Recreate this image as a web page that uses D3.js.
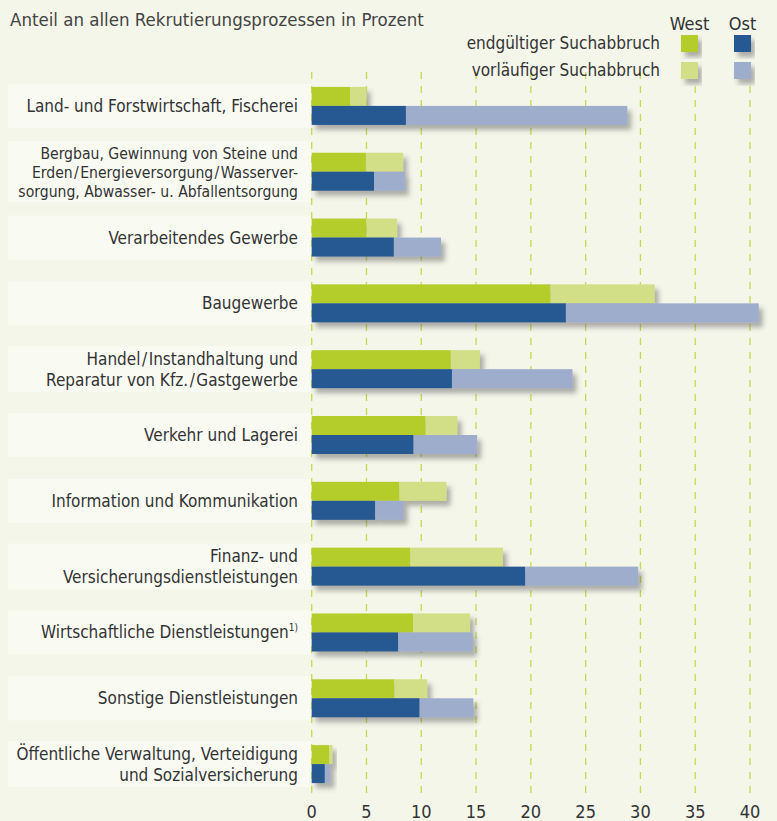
<!DOCTYPE html>
<html>
<head>
<meta charset="utf-8">
<script src="https://cdn.jsdelivr.net/npm/d3@7"></script>
<style>
    body { margin: 0; background: #f4f6ea; }
    svg { display: block; }
    text { font-family: "Liberation Sans Narrow", "DejaVu Sans Condensed", "Open Sans", sans-serif; fill: #333; }
</style>
</head>
<body>
<div id="chart"></div>
<script>
// categories (line breaks as in the original labels)
const categories = [
    "Land- und Forstwirtschaft, Fischerei",
    "Bergbau, Gewinnung von Steine und\nErden\u200A/\u200AEnergieversorgung\u200A/\u200AWasserver-\nsorgung, Abwasser- u. Abfallentsorgung",
    "Verarbeitendes Gewerbe",
    "Baugewerbe",
    "Handel\u200A/\u200AInstandhaltung und\nReparatur von Kfz.\u200A/\u200AGastgewerbe",
    "Verkehr und Lagerei",
    "Information und Kommunikation",
    "Finanz- und\nVersicherungsdienstleistungen",
    "Wirtschaftliche Dienstleistungen",
    "Sonstige Dienstleistungen",
    "Öffentliche Verwaltung, Verteidigung\nund Sozialversicherung"
];
// percent values
const westFinal  = [3.5, 4.95, 5.0, 21.8, 12.7, 10.4, 8.0, 9.0, 9.25, 7.55, 1.6];
const westPrelim = [1.5, 3.4, 2.8, 9.5, 2.65, 2.9, 4.3, 8.45, 5.2, 3.0, 0.3];
const eastFinal  = [8.6, 5.7, 7.5, 23.2, 12.8, 9.3, 5.8, 19.5, 7.9, 9.85, 1.2];
const eastPrelim = [20.2, 2.8, 4.3, 17.6, 11.0, 5.8, 2.6, 10.3, 6.8, 4.9, 0.5];
const ticks = [0, 5, 10, 15, 20, 25, 30, 35, 40];
const footnotes = {8: "1)"};

const colors = {
    westFinal: "#b5cd2b", westPrelim: "#d2df86",
    eastFinal: "#265892", eastPrelim: "#9fadcd"
};

const width = 777, height = 821;

const svg = d3.select("#chart").append("svg")
    .attr("width", width)
    .attr("height", height);

svg.append("rect").attr("width", width).attr("height", height).attr("fill", "#f4f6ea");

// drop shadow
const defs = svg.append("defs");
defs.append("filter")
    .attr("id", "shadow")
    .attr("x", "-10%").attr("y", "-20%")
    .attr("width", "130%").attr("height", "160%")
    .append("feDropShadow")
    .attr("dx", 4).attr("dy", 5)
    .attr("stdDeviation", 2.5)
    .attr("flood-color", "#555")
    .attr("flood-opacity", 0.45);

// scales
let x = d3.scaleLinear().domain([0, 40]).range([311.7, 750]);
let y = d3.scaleBand().domain(d3.range(categories.length)).range([73, 797]);
let barH = 19;

// title
svg.append("text")
    .attr("x", 10).attr("y", 26)
    .attr("font-size", 18.5)
    .style("fill", "#444")
    .text("Anteil an allen Rekrutierungsprozessen in Prozent");

// gridlines
svg.append("g").selectAll("line")
    .data(ticks)
    .join("line")
    .attr("x1", d => x(d)).attr("x2", d => x(d))
    .attr("y1", 72).attr("y2", 800)
    .attr("stroke", "#c4da4e")
    .attr("stroke-width", 1.3)
    .attr("stroke-dasharray", "7,7");

// axis labels
svg.append("g").selectAll("text")
    .data(ticks)
    .join("text")
    .attr("x", d => x(d))
    .attr("y", 818)
    .attr("text-anchor", "middle")
    .attr("font-size", 18)
    .text(d => d);

// label panels + text
categories.forEach((cat, i) => {
    let lines = cat.split("\n");
    let cy = y(i) + y.bandwidth() / 2;
    let small = lines.length > 2;
    let lh = small ? 19 : 21;
    let ph = Math.max(44, lines.length * lh + 4);

    svg.append("rect")
        .attr("x", 8).attr("y", cy - ph / 2)
        .attr("width", 303).attr("height", ph)
        .attr("fill", "#f9fbf3");

    let t = svg.append("text")
        .attr("text-anchor", "end")
        .attr("font-size", small ? 15.6 : 17);
    lines.forEach((line, k) => {
        t.append("tspan")
            .attr("x", 298)
            .attr("y", cy + (k - (lines.length - 1) / 2) * lh + 6)
            .text(line);
    });
    if (footnotes[i]) {
        t.append("tspan")
            .attr("font-size", 10)
            .attr("dy", -7)
            .text(footnotes[i]);
    }
});

// bars
categories.forEach((cat, i) => {
    let cy = y(i) + y.bandwidth() / 2;
    let g = svg.append("g").attr("filter", "url(#shadow)");
    let rows = [
        {top: cy - barH, fin: westFinal[i], pre: westPrelim[i], cf: colors.westFinal, cp: colors.westPrelim},
        {top: cy, fin: eastFinal[i], pre: eastPrelim[i], cf: colors.eastFinal, cp: colors.eastPrelim}
    ];
    rows.forEach(r => {
        g.append("rect")
            .attr("x", x(0)).attr("y", r.top)
            .attr("width", x(r.fin) - x(0)).attr("height", barH)
            .attr("fill", r.cf);
        g.append("rect")
            .attr("x", x(r.fin)).attr("y", r.top)
            .attr("width", x(r.fin + r.pre) - x(r.fin)).attr("height", barH)
            .attr("fill", r.cp);
    });
});

// legend
let legend = svg.append("g");
[["West", 689.5], ["Ost", 742.5]].forEach(([name, cx]) => {
    legend.append("text")
        .attr("x", cx).attr("y", 30)
        .attr("text-anchor", "middle")
        .attr("font-size", 18)
        .text(name);
});
let legendRows = [
    {label: "endgültiger Suchabbruch", cols: [colors.westFinal, colors.eastFinal], yy: 35},
    {label: "vorläufiger Suchabbruch", cols: [colors.westPrelim, colors.eastPrelim], yy: 62}
];
legendRows.forEach(r => {
    legend.append("text")
        .attr("x", 660).attr("y", r.yy + 14)
        .attr("text-anchor", "end")
        .attr("font-size", 17)
        .text(r.label);
    r.cols.forEach((c, k) => {
        legend.append("rect")
            .attr("x", k === 0 ? 681 : 734).attr("y", r.yy)
            .attr("width", 17).attr("height", 17)
            .attr("fill", c)
            .attr("filter", "url(#shadow)");
    });
});
</script>
</body>
</html>
